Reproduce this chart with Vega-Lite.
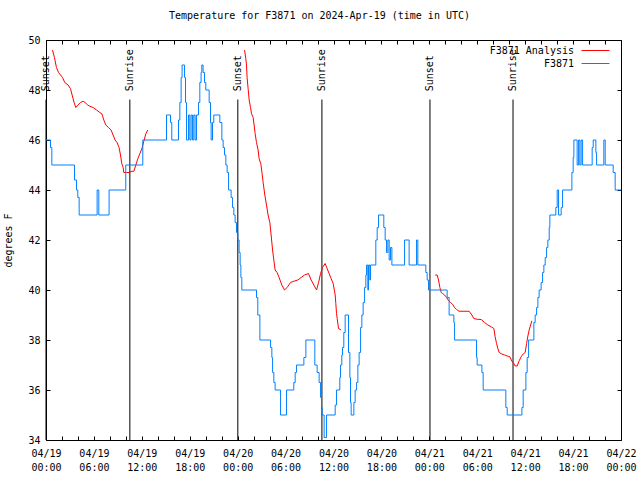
{
  "$schema": "https://vega.github.io/schema/vega-lite/v6.json",
  "width": 575,
  "height": 400,
  "autosize": {"type": "none"},
  "padding": {"left": 46, "top": 40, "right": 19, "bottom": 40},
  "background": "white",
  "title": {"text": "Temperature for F3871 on 2024-Apr-19 (time in UTC)", "font": "DejaVu Sans Mono", "fontSize": 10, "fontWeight": "normal", "color": "black", "offset": 14, "dx": -14},
  "config": {
    "view": {"stroke": "black", "strokeWidth": 1},
    "axis": {"labelFont": "DejaVu Sans Mono", "labelFontSize": 10, "labelColor": "black", "titleFont": "DejaVu Sans Mono", "titleFontSize": 10, "titleFontWeight": "normal", "titleColor": "black", "tickColor": "black", "tickSize": -4, "domain": false, "grid": false, "labelOverlap": false, "labelFlush": false}
  },
  "datasets": {
    "sun": [
      {"hour": 0.0, "event": "Sunset"},
      {"hour": 10.5, "event": "Sunrise"},
      {"hour": 24.02, "event": "Sunset"},
      {"hour": 34.55, "event": "Sunrise"},
      {"hour": 48.08, "event": "Sunset"},
      {"hour": 58.48, "event": "Sunrise"}
    ],
    "ana": [
      {"hour": 0.81, "temp": 49.6, "seg": 1, "series": "F3871 Analysis"},
      {"hour": 1.06, "temp": 49.3, "seg": 1, "series": "F3871 Analysis"},
      {"hour": 1.31, "temp": 48.9, "seg": 1, "series": "F3871 Analysis"},
      {"hour": 1.57, "temp": 48.7, "seg": 1, "series": "F3871 Analysis"},
      {"hour": 1.82, "temp": 48.6, "seg": 1, "series": "F3871 Analysis"},
      {"hour": 2.07, "temp": 48.5, "seg": 1, "series": "F3871 Analysis"},
      {"hour": 2.35, "temp": 48.3, "seg": 1, "series": "F3871 Analysis"},
      {"hour": 2.77, "temp": 48.2, "seg": 1, "series": "F3871 Analysis"},
      {"hour": 3.07, "temp": 48.05, "seg": 1, "series": "F3871 Analysis"},
      {"hour": 3.27, "temp": 47.8, "seg": 1, "series": "F3871 Analysis"},
      {"hour": 3.52, "temp": 47.5, "seg": 1, "series": "F3871 Analysis"},
      {"hour": 3.73, "temp": 47.3, "seg": 1, "series": "F3871 Analysis"},
      {"hour": 4.02, "temp": 47.4, "seg": 1, "series": "F3871 Analysis"},
      {"hour": 4.32, "temp": 47.5, "seg": 1, "series": "F3871 Analysis"},
      {"hour": 4.65, "temp": 47.55, "seg": 1, "series": "F3871 Analysis"},
      {"hour": 4.9, "temp": 47.5, "seg": 1, "series": "F3871 Analysis"},
      {"hour": 5.23, "temp": 47.4, "seg": 1, "series": "F3871 Analysis"},
      {"hour": 5.49, "temp": 47.35, "seg": 1, "series": "F3871 Analysis"},
      {"hour": 5.9, "temp": 47.3, "seg": 1, "series": "F3871 Analysis"},
      {"hour": 6.32, "temp": 47.2, "seg": 1, "series": "F3871 Analysis"},
      {"hour": 6.74, "temp": 47.1, "seg": 1, "series": "F3871 Analysis"},
      {"hour": 6.99, "temp": 47.05, "seg": 1, "series": "F3871 Analysis"},
      {"hour": 7.24, "temp": 46.8, "seg": 1, "series": "F3871 Analysis"},
      {"hour": 7.49, "temp": 46.6, "seg": 1, "series": "F3871 Analysis"},
      {"hour": 7.83, "temp": 46.5, "seg": 1, "series": "F3871 Analysis"},
      {"hour": 8.15, "temp": 46.4, "seg": 1, "series": "F3871 Analysis"},
      {"hour": 8.4, "temp": 46.2, "seg": 1, "series": "F3871 Analysis"},
      {"hour": 8.65, "temp": 46.0, "seg": 1, "series": "F3871 Analysis"},
      {"hour": 8.9, "temp": 45.9, "seg": 1, "series": "F3871 Analysis"},
      {"hour": 9.15, "temp": 45.7, "seg": 1, "series": "F3871 Analysis"},
      {"hour": 9.33, "temp": 45.4, "seg": 1, "series": "F3871 Analysis"},
      {"hour": 9.49, "temp": 45.05, "seg": 1, "series": "F3871 Analysis"},
      {"hour": 9.66, "temp": 44.9, "seg": 1, "series": "F3871 Analysis"},
      {"hour": 9.74, "temp": 44.7, "seg": 1, "series": "F3871 Analysis"},
      {"hour": 10.08, "temp": 44.7, "seg": 1, "series": "F3871 Analysis"},
      {"hour": 10.41, "temp": 44.7, "seg": 1, "series": "F3871 Analysis"},
      {"hour": 10.75, "temp": 44.75, "seg": 1, "series": "F3871 Analysis"},
      {"hour": 11.0, "temp": 44.75, "seg": 1, "series": "F3871 Analysis"},
      {"hour": 11.25, "temp": 45.0, "seg": 1, "series": "F3871 Analysis"},
      {"hour": 11.5, "temp": 45.25, "seg": 1, "series": "F3871 Analysis"},
      {"hour": 11.75, "temp": 45.45, "seg": 1, "series": "F3871 Analysis"},
      {"hour": 12.0, "temp": 45.65, "seg": 1, "series": "F3871 Analysis"},
      {"hour": 12.25, "temp": 45.95, "seg": 1, "series": "F3871 Analysis"},
      {"hour": 12.5, "temp": 46.25, "seg": 1, "series": "F3871 Analysis"},
      {"hour": 12.75, "temp": 46.4, "seg": 1, "series": "F3871 Analysis"},
      {"hour": 24.86, "temp": 49.6, "seg": 2, "series": "F3871 Analysis"},
      {"hour": 25.02, "temp": 49.25, "seg": 2, "series": "F3871 Analysis"},
      {"hour": 25.11, "temp": 49.0, "seg": 2, "series": "F3871 Analysis"},
      {"hour": 25.18, "temp": 48.5, "seg": 2, "series": "F3871 Analysis"},
      {"hour": 25.31, "temp": 48.05, "seg": 2, "series": "F3871 Analysis"},
      {"hour": 25.44, "temp": 47.6, "seg": 2, "series": "F3871 Analysis"},
      {"hour": 25.61, "temp": 47.3, "seg": 2, "series": "F3871 Analysis"},
      {"hour": 25.74, "temp": 47.05, "seg": 2, "series": "F3871 Analysis"},
      {"hour": 25.94, "temp": 46.9, "seg": 2, "series": "F3871 Analysis"},
      {"hour": 26.06, "temp": 46.6, "seg": 2, "series": "F3871 Analysis"},
      {"hour": 26.19, "temp": 46.25, "seg": 2, "series": "F3871 Analysis"},
      {"hour": 26.36, "temp": 45.9, "seg": 2, "series": "F3871 Analysis"},
      {"hour": 26.56, "temp": 45.6, "seg": 2, "series": "F3871 Analysis"},
      {"hour": 26.69, "temp": 45.25, "seg": 2, "series": "F3871 Analysis"},
      {"hour": 26.9, "temp": 45.05, "seg": 2, "series": "F3871 Analysis"},
      {"hour": 27.06, "temp": 44.65, "seg": 2, "series": "F3871 Analysis"},
      {"hour": 27.19, "temp": 44.3, "seg": 2, "series": "F3871 Analysis"},
      {"hour": 27.4, "temp": 43.8, "seg": 2, "series": "F3871 Analysis"},
      {"hour": 27.61, "temp": 43.4, "seg": 2, "series": "F3871 Analysis"},
      {"hour": 27.81, "temp": 43.0, "seg": 2, "series": "F3871 Analysis"},
      {"hour": 28.03, "temp": 42.7, "seg": 2, "series": "F3871 Analysis"},
      {"hour": 28.19, "temp": 42.2, "seg": 2, "series": "F3871 Analysis"},
      {"hour": 28.37, "temp": 41.6, "seg": 2, "series": "F3871 Analysis"},
      {"hour": 28.53, "temp": 41.2, "seg": 2, "series": "F3871 Analysis"},
      {"hour": 28.69, "temp": 40.8, "seg": 2, "series": "F3871 Analysis"},
      {"hour": 28.94, "temp": 40.7, "seg": 2, "series": "F3871 Analysis"},
      {"hour": 29.19, "temp": 40.5, "seg": 2, "series": "F3871 Analysis"},
      {"hour": 29.53, "temp": 40.2, "seg": 2, "series": "F3871 Analysis"},
      {"hour": 29.87, "temp": 40.0, "seg": 2, "series": "F3871 Analysis"},
      {"hour": 30.19, "temp": 40.1, "seg": 2, "series": "F3871 Analysis"},
      {"hour": 30.62, "temp": 40.3, "seg": 2, "series": "F3871 Analysis"},
      {"hour": 31.03, "temp": 40.35, "seg": 2, "series": "F3871 Analysis"},
      {"hour": 31.53, "temp": 40.4, "seg": 2, "series": "F3871 Analysis"},
      {"hour": 31.95, "temp": 40.5, "seg": 2, "series": "F3871 Analysis"},
      {"hour": 32.37, "temp": 40.6, "seg": 2, "series": "F3871 Analysis"},
      {"hour": 32.87, "temp": 40.66, "seg": 2, "series": "F3871 Analysis"},
      {"hour": 33.2, "temp": 40.4, "seg": 2, "series": "F3871 Analysis"},
      {"hour": 33.54, "temp": 40.2, "seg": 2, "series": "F3871 Analysis"},
      {"hour": 33.88, "temp": 40.0, "seg": 2, "series": "F3871 Analysis"},
      {"hour": 34.13, "temp": 40.3, "seg": 2, "series": "F3871 Analysis"},
      {"hour": 34.38, "temp": 40.66, "seg": 2, "series": "F3871 Analysis"},
      {"hour": 34.63, "temp": 40.9, "seg": 2, "series": "F3871 Analysis"},
      {"hour": 34.95, "temp": 41.06, "seg": 2, "series": "F3871 Analysis"},
      {"hour": 35.2, "temp": 40.86, "seg": 2, "series": "F3871 Analysis"},
      {"hour": 35.45, "temp": 40.66, "seg": 2, "series": "F3871 Analysis"},
      {"hour": 35.7, "temp": 40.46, "seg": 2, "series": "F3871 Analysis"},
      {"hour": 35.96, "temp": 40.26, "seg": 2, "series": "F3871 Analysis"},
      {"hour": 36.21, "temp": 39.8, "seg": 2, "series": "F3871 Analysis"},
      {"hour": 36.29, "temp": 39.46, "seg": 2, "series": "F3871 Analysis"},
      {"hour": 36.38, "temp": 39.06, "seg": 2, "series": "F3871 Analysis"},
      {"hour": 36.46, "temp": 38.86, "seg": 2, "series": "F3871 Analysis"},
      {"hour": 36.63, "temp": 38.46, "seg": 2, "series": "F3871 Analysis"},
      {"hour": 36.96, "temp": 38.4, "seg": 2, "series": "F3871 Analysis"},
      {"hour": 48.73, "temp": 40.6, "seg": 3, "series": "F3871 Analysis"},
      {"hour": 48.98, "temp": 40.6, "seg": 3, "series": "F3871 Analysis"},
      {"hour": 49.15, "temp": 40.4, "seg": 3, "series": "F3871 Analysis"},
      {"hour": 49.32, "temp": 40.1, "seg": 3, "series": "F3871 Analysis"},
      {"hour": 49.48, "temp": 39.9, "seg": 3, "series": "F3871 Analysis"},
      {"hour": 49.66, "temp": 39.86, "seg": 3, "series": "F3871 Analysis"},
      {"hour": 49.91, "temp": 39.8, "seg": 3, "series": "F3871 Analysis"},
      {"hour": 50.16, "temp": 39.7, "seg": 3, "series": "F3871 Analysis"},
      {"hour": 50.41, "temp": 39.57, "seg": 3, "series": "F3871 Analysis"},
      {"hour": 50.66, "temp": 39.5, "seg": 3, "series": "F3871 Analysis"},
      {"hour": 50.91, "temp": 39.43, "seg": 3, "series": "F3871 Analysis"},
      {"hour": 51.16, "temp": 39.3, "seg": 3, "series": "F3871 Analysis"},
      {"hour": 51.41, "temp": 39.22, "seg": 3, "series": "F3871 Analysis"},
      {"hour": 51.73, "temp": 39.15, "seg": 3, "series": "F3871 Analysis"},
      {"hour": 52.99, "temp": 39.15, "seg": 3, "series": "F3871 Analysis"},
      {"hour": 53.33, "temp": 39.0, "seg": 3, "series": "F3871 Analysis"},
      {"hour": 53.57, "temp": 38.86, "seg": 3, "series": "F3871 Analysis"},
      {"hour": 53.99, "temp": 38.83, "seg": 3, "series": "F3871 Analysis"},
      {"hour": 54.49, "temp": 38.82, "seg": 3, "series": "F3871 Analysis"},
      {"hour": 54.92, "temp": 38.7, "seg": 3, "series": "F3871 Analysis"},
      {"hour": 55.33, "temp": 38.6, "seg": 3, "series": "F3871 Analysis"},
      {"hour": 55.74, "temp": 38.53, "seg": 3, "series": "F3871 Analysis"},
      {"hour": 56.08, "temp": 38.46, "seg": 3, "series": "F3871 Analysis"},
      {"hour": 56.24, "temp": 38.13, "seg": 3, "series": "F3871 Analysis"},
      {"hour": 56.42, "temp": 37.86, "seg": 3, "series": "F3871 Analysis"},
      {"hour": 56.58, "temp": 37.66, "seg": 3, "series": "F3871 Analysis"},
      {"hour": 56.74, "temp": 37.5, "seg": 3, "series": "F3871 Analysis"},
      {"hour": 57.08, "temp": 37.44, "seg": 3, "series": "F3871 Analysis"},
      {"hour": 57.42, "temp": 37.4, "seg": 3, "series": "F3871 Analysis"},
      {"hour": 57.75, "temp": 37.36, "seg": 3, "series": "F3871 Analysis"},
      {"hour": 58.08, "temp": 37.33, "seg": 3, "series": "F3871 Analysis"},
      {"hour": 58.33, "temp": 37.16, "seg": 3, "series": "F3871 Analysis"},
      {"hour": 58.58, "temp": 37.06, "seg": 3, "series": "F3871 Analysis"},
      {"hour": 58.75, "temp": 36.96, "seg": 3, "series": "F3871 Analysis"},
      {"hour": 59.0, "temp": 36.96, "seg": 3, "series": "F3871 Analysis"},
      {"hour": 59.25, "temp": 37.17, "seg": 3, "series": "F3871 Analysis"},
      {"hour": 59.5, "temp": 37.33, "seg": 3, "series": "F3871 Analysis"},
      {"hour": 59.75, "temp": 37.44, "seg": 3, "series": "F3871 Analysis"},
      {"hour": 60.0, "temp": 37.5, "seg": 3, "series": "F3871 Analysis"},
      {"hour": 60.18, "temp": 37.86, "seg": 3, "series": "F3871 Analysis"},
      {"hour": 60.34, "temp": 38.16, "seg": 3, "series": "F3871 Analysis"},
      {"hour": 60.5, "temp": 38.4, "seg": 3, "series": "F3871 Analysis"},
      {"hour": 60.68, "temp": 38.6, "seg": 3, "series": "F3871 Analysis"},
      {"hour": 60.84, "temp": 38.77, "seg": 3, "series": "F3871 Analysis"}
    ],
    "obs": [
      {"hour": 0.0, "temp": 46.0, "series": "F3871"},
      {"hour": 0.56, "temp": 45.7, "series": "F3871"},
      {"hour": 0.73, "temp": 45.0, "series": "F3871"},
      {"hour": 3.57, "temp": 44.4, "series": "F3871"},
      {"hour": 3.82, "temp": 44.0, "series": "F3871"},
      {"hour": 3.98, "temp": 43.7, "series": "F3871"},
      {"hour": 4.15, "temp": 43.0, "series": "F3871"},
      {"hour": 6.4, "temp": 44.0, "series": "F3871"},
      {"hour": 6.61, "temp": 43.0, "series": "F3871"},
      {"hour": 7.9, "temp": 44.0, "series": "F3871"},
      {"hour": 9.99, "temp": 45.0, "series": "F3871"},
      {"hour": 12.12, "temp": 46.0, "series": "F3871"},
      {"hour": 15.09, "temp": 47.0, "series": "F3871"},
      {"hour": 15.59, "temp": 46.7, "series": "F3871"},
      {"hour": 15.75, "temp": 46.0, "series": "F3871"},
      {"hour": 16.59, "temp": 46.8, "series": "F3871"},
      {"hour": 16.76, "temp": 47.5, "series": "F3871"},
      {"hour": 16.92, "temp": 48.5, "series": "F3871"},
      {"hour": 17.04, "temp": 49.0, "series": "F3871"},
      {"hour": 17.35, "temp": 48.5, "series": "F3871"},
      {"hour": 17.47, "temp": 47.5, "series": "F3871"},
      {"hour": 17.6, "temp": 46.0, "series": "F3871"},
      {"hour": 17.85, "temp": 47.0, "series": "F3871"},
      {"hour": 18.01, "temp": 46.0, "series": "F3871"},
      {"hour": 18.17, "temp": 47.0, "series": "F3871"},
      {"hour": 18.35, "temp": 46.0, "series": "F3871"},
      {"hour": 18.51, "temp": 47.0, "series": "F3871"},
      {"hour": 18.67, "temp": 46.0, "series": "F3871"},
      {"hour": 18.85, "temp": 47.0, "series": "F3871"},
      {"hour": 19.1, "temp": 47.5, "series": "F3871"},
      {"hour": 19.26, "temp": 48.3, "series": "F3871"},
      {"hour": 19.42, "temp": 48.7, "series": "F3871"},
      {"hour": 19.51, "temp": 49.0, "series": "F3871"},
      {"hour": 19.67, "temp": 48.7, "series": "F3871"},
      {"hour": 19.85, "temp": 48.3, "series": "F3871"},
      {"hour": 20.01, "temp": 48.0, "series": "F3871"},
      {"hour": 20.43, "temp": 47.5, "series": "F3871"},
      {"hour": 20.6, "temp": 46.7, "series": "F3871"},
      {"hour": 20.68, "temp": 46.0, "series": "F3871"},
      {"hour": 20.85, "temp": 46.7, "series": "F3871"},
      {"hour": 21.01, "temp": 47.0, "series": "F3871"},
      {"hour": 21.77, "temp": 46.7, "series": "F3871"},
      {"hour": 22.02, "temp": 46.0, "series": "F3871"},
      {"hour": 22.18, "temp": 45.7, "series": "F3871"},
      {"hour": 22.35, "temp": 45.4, "series": "F3871"},
      {"hour": 22.52, "temp": 45.0, "series": "F3871"},
      {"hour": 22.68, "temp": 44.7, "series": "F3871"},
      {"hour": 22.86, "temp": 44.0, "series": "F3871"},
      {"hour": 23.18, "temp": 43.7, "series": "F3871"},
      {"hour": 23.36, "temp": 43.3, "series": "F3871"},
      {"hour": 23.52, "temp": 43.0, "series": "F3871"},
      {"hour": 23.68, "temp": 42.7, "series": "F3871"},
      {"hour": 23.85, "temp": 42.3, "series": "F3871"},
      {"hour": 24.02, "temp": 42.0, "series": "F3871"},
      {"hour": 24.18, "temp": 41.5, "series": "F3871"},
      {"hour": 24.31, "temp": 41.0, "series": "F3871"},
      {"hour": 24.4, "temp": 40.5, "series": "F3871"},
      {"hour": 24.52, "temp": 40.0, "series": "F3871"},
      {"hour": 26.36, "temp": 39.7, "series": "F3871"},
      {"hour": 26.52, "temp": 39.0, "series": "F3871"},
      {"hour": 26.78, "temp": 38.0, "series": "F3871"},
      {"hour": 28.12, "temp": 37.7, "series": "F3871"},
      {"hour": 28.28, "temp": 37.3, "series": "F3871"},
      {"hour": 28.37, "temp": 36.7, "series": "F3871"},
      {"hour": 28.53, "temp": 36.3, "series": "F3871"},
      {"hour": 28.69, "temp": 36.0, "series": "F3871"},
      {"hour": 29.37, "temp": 35.0, "series": "F3871"},
      {"hour": 30.12, "temp": 36.0, "series": "F3871"},
      {"hour": 31.03, "temp": 36.3, "series": "F3871"},
      {"hour": 31.2, "temp": 36.7, "series": "F3871"},
      {"hour": 31.37, "temp": 37.0, "series": "F3871"},
      {"hour": 32.29, "temp": 37.3, "series": "F3871"},
      {"hour": 32.54, "temp": 38.0, "series": "F3871"},
      {"hour": 33.66, "temp": 37.0, "series": "F3871"},
      {"hour": 33.95, "temp": 36.7, "series": "F3871"},
      {"hour": 34.2, "temp": 36.3, "series": "F3871"},
      {"hour": 34.38, "temp": 35.7, "series": "F3871"},
      {"hour": 34.5, "temp": 35.3, "series": "F3871"},
      {"hour": 34.58, "temp": 35.0, "series": "F3871"},
      {"hour": 34.83, "temp": 34.1, "series": "F3871"},
      {"hour": 35.13, "temp": 35.0, "series": "F3871"},
      {"hour": 36.21, "temp": 35.4, "series": "F3871"},
      {"hour": 36.38, "temp": 36.0, "series": "F3871"},
      {"hour": 36.79, "temp": 36.5, "series": "F3871"},
      {"hour": 36.88, "temp": 37.0, "series": "F3871"},
      {"hour": 37.04, "temp": 37.4, "series": "F3871"},
      {"hour": 37.13, "temp": 37.7, "series": "F3871"},
      {"hour": 37.29, "temp": 38.3, "series": "F3871"},
      {"hour": 37.46, "temp": 39.0, "series": "F3871"},
      {"hour": 37.88, "temp": 37.5, "series": "F3871"},
      {"hour": 38.05, "temp": 36.5, "series": "F3871"},
      {"hour": 38.13, "temp": 35.5, "series": "F3871"},
      {"hour": 38.21, "temp": 35.0, "series": "F3871"},
      {"hour": 38.55, "temp": 35.5, "series": "F3871"},
      {"hour": 38.71, "temp": 36.0, "series": "F3871"},
      {"hour": 38.89, "temp": 36.3, "series": "F3871"},
      {"hour": 39.05, "temp": 37.0, "series": "F3871"},
      {"hour": 39.21, "temp": 37.5, "series": "F3871"},
      {"hour": 39.39, "temp": 38.5, "series": "F3871"},
      {"hour": 39.55, "temp": 39.0, "series": "F3871"},
      {"hour": 39.71, "temp": 39.5, "series": "F3871"},
      {"hour": 39.89, "temp": 40.1, "series": "F3871"},
      {"hour": 40.05, "temp": 40.6, "series": "F3871"},
      {"hour": 40.14, "temp": 41.0, "series": "F3871"},
      {"hour": 40.3, "temp": 40.0, "series": "F3871"},
      {"hour": 40.39, "temp": 41.0, "series": "F3871"},
      {"hour": 40.55, "temp": 40.4, "series": "F3871"},
      {"hour": 40.64, "temp": 41.0, "series": "F3871"},
      {"hour": 41.3, "temp": 42.0, "series": "F3871"},
      {"hour": 41.47, "temp": 42.5, "series": "F3871"},
      {"hour": 41.64, "temp": 43.0, "series": "F3871"},
      {"hour": 42.3, "temp": 42.5, "series": "F3871"},
      {"hour": 42.47, "temp": 42.0, "series": "F3871"},
      {"hour": 42.64, "temp": 41.5, "series": "F3871"},
      {"hour": 42.81, "temp": 42.0, "series": "F3871"},
      {"hour": 42.97, "temp": 41.2, "series": "F3871"},
      {"hour": 43.14, "temp": 41.7, "series": "F3871"},
      {"hour": 43.31, "temp": 41.0, "series": "F3871"},
      {"hour": 44.9, "temp": 42.0, "series": "F3871"},
      {"hour": 45.47, "temp": 41.0, "series": "F3871"},
      {"hour": 46.4, "temp": 42.0, "series": "F3871"},
      {"hour": 46.56, "temp": 41.0, "series": "F3871"},
      {"hour": 47.56, "temp": 40.7, "series": "F3871"},
      {"hour": 47.73, "temp": 40.4, "series": "F3871"},
      {"hour": 47.9, "temp": 40.0, "series": "F3871"},
      {"hour": 50.23, "temp": 39.7, "series": "F3871"},
      {"hour": 50.48, "temp": 39.0, "series": "F3871"},
      {"hour": 51.07, "temp": 38.7, "series": "F3871"},
      {"hour": 51.16, "temp": 38.0, "series": "F3871"},
      {"hour": 53.91, "temp": 37.3, "series": "F3871"},
      {"hour": 53.99, "temp": 37.0, "series": "F3871"},
      {"hour": 54.58, "temp": 36.7, "series": "F3871"},
      {"hour": 54.74, "temp": 36.0, "series": "F3871"},
      {"hour": 57.58, "temp": 35.3, "series": "F3871"},
      {"hour": 57.75, "temp": 35.0, "series": "F3871"},
      {"hour": 59.59, "temp": 35.3, "series": "F3871"},
      {"hour": 59.75, "temp": 36.0, "series": "F3871"},
      {"hour": 60.09, "temp": 36.7, "series": "F3871"},
      {"hour": 60.25, "temp": 37.3, "series": "F3871"},
      {"hour": 60.43, "temp": 38.0, "series": "F3871"},
      {"hour": 61.09, "temp": 38.7, "series": "F3871"},
      {"hour": 61.25, "temp": 39.0, "series": "F3871"},
      {"hour": 61.43, "temp": 39.3, "series": "F3871"},
      {"hour": 61.59, "temp": 39.7, "series": "F3871"},
      {"hour": 61.75, "temp": 40.0, "series": "F3871"},
      {"hour": 62.0, "temp": 40.3, "series": "F3871"},
      {"hour": 62.18, "temp": 40.7, "series": "F3871"},
      {"hour": 62.34, "temp": 41.0, "series": "F3871"},
      {"hour": 62.51, "temp": 41.3, "series": "F3871"},
      {"hour": 62.68, "temp": 41.7, "series": "F3871"},
      {"hour": 62.84, "temp": 42.0, "series": "F3871"},
      {"hour": 63.01, "temp": 42.5, "series": "F3871"},
      {"hour": 63.09, "temp": 43.0, "series": "F3871"},
      {"hour": 63.84, "temp": 43.3, "series": "F3871"},
      {"hour": 64.01, "temp": 44.0, "series": "F3871"},
      {"hour": 64.18, "temp": 43.0, "series": "F3871"},
      {"hour": 64.51, "temp": 43.3, "series": "F3871"},
      {"hour": 64.68, "temp": 44.0, "series": "F3871"},
      {"hour": 65.85, "temp": 44.7, "series": "F3871"},
      {"hour": 66.01, "temp": 45.3, "series": "F3871"},
      {"hour": 66.1, "temp": 46.0, "series": "F3871"},
      {"hour": 66.51, "temp": 45.0, "series": "F3871"},
      {"hour": 66.69, "temp": 46.0, "series": "F3871"},
      {"hour": 66.85, "temp": 45.0, "series": "F3871"},
      {"hour": 67.01, "temp": 46.0, "series": "F3871"},
      {"hour": 67.19, "temp": 45.0, "series": "F3871"},
      {"hour": 68.39, "temp": 45.7, "series": "F3871"},
      {"hour": 68.52, "temp": 46.0, "series": "F3871"},
      {"hour": 68.85, "temp": 45.5, "series": "F3871"},
      {"hour": 68.94, "temp": 45.0, "series": "F3871"},
      {"hour": 69.85, "temp": 46.0, "series": "F3871"},
      {"hour": 70.02, "temp": 45.0, "series": "F3871"},
      {"hour": 71.02, "temp": 44.7, "series": "F3871"},
      {"hour": 71.27, "temp": 44.0, "series": "F3871"},
      {"hour": 72.0, "temp": 44.0, "series": "F3871"}
    ]
  },
  "layer": [
    {
      "data": {"name": "sun"},
      "mark": {"type": "rule", "color": "black", "strokeWidth": 1},
      "encoding": {
        "x": {"field": "hour", "type": "quantitative", "scale": {"domain": [0, 72], "nice": false, "zero": false},
              "axis": {"orient": "top", "values": [0,2,4,6,8,10,12,14,16,18,20,22,24,26,28,30,32,34,36,38,40,42,44,46,48,50,52,54,56,58,60,62,64,66,68,70,72], "labels": false, "title": null}},
        "y": {"datum": 47.62, "type": "quantitative", "scale": {"domain": [34, 50], "nice": false, "zero": false},
              "axis": {"orient": "right", "values": [34,36,38,40,42,44,46,48,50], "labels": false, "title": null}},
        "y2": {"datum": 34}
      }
    },
    {
      "data": {"name": "sun"},
      "mark": {"type": "text", "angle": 270, "align": "left", "baseline": "middle", "font": "DejaVu Sans Mono", "fontSize": 10, "color": "black"},
      "encoding": {
        "x": {"field": "hour", "type": "quantitative", "axis": null},
        "y": {"datum": 47.95, "type": "quantitative", "axis": null},
        "text": {"field": "event"}
      }
    },
    {
      "data": {"name": "ana"},
      "mark": {"type": "line", "strokeWidth": 1},
      "encoding": {
        "x": {"field": "hour", "type": "quantitative",
              "axis": {"orient": "bottom", "values": [0,2,4,6,8,10,12,14,16,18,20,22,24,26,28,30,32,34,36,38,40,42,44,46,48,50,52,54,56,58,60,62,64,66,68,70,72], "title": null, "labelPadding": 12, "labelLineHeight": 14, "labelBaseline": "top",
                       "labelExpr": "datum.value % 6 == 0 ? ['04/' + (19 + floor(datum.value / 24)), (datum.value % 24 < 10 ? '0' : '') + (datum.value % 24) + ':00'] : ''"}},
        "y": {"field": "temp", "type": "quantitative",
              "axis": {"orient": "left", "values": [34,36,38,40,42,44,46,48,50], "title": "degrees F", "labelPadding": 10, "titlePadding": 14}},
        "color": {"field": "series", "type": "nominal",
                  "scale": {"domain": ["F3871 Analysis", "F3871"], "range": ["#ff0000", "#0080ff"]},
                  "legend": {"orient": "none", "legendX": 544, "legendY": 5, "title": null, "symbolType": "M-3,0H3", "symbolSize": 87, "symbolStrokeWidth": 1, "symbolFillColor": "transparent", "labelAlign": "right", "labelOffset": -27, "labelFont": "DejaVu Sans Mono", "labelFontSize": 10, "labelColor": "black", "rowPadding": 2, "padding": 0}},
        "detail": {"field": "seg", "type": "nominal"}
      }
    },
    {
      "data": {"name": "obs"},
      "mark": {"type": "line", "interpolate": "step-after", "strokeWidth": 1},
      "encoding": {
        "x": {"field": "hour", "type": "quantitative", "axis": null},
        "y": {"field": "temp", "type": "quantitative", "axis": null},
        "color": {"field": "series", "type": "nominal"}
      }
    }
  ],
  "resolve": {"axis": {"x": "independent", "y": "independent"}}
}
